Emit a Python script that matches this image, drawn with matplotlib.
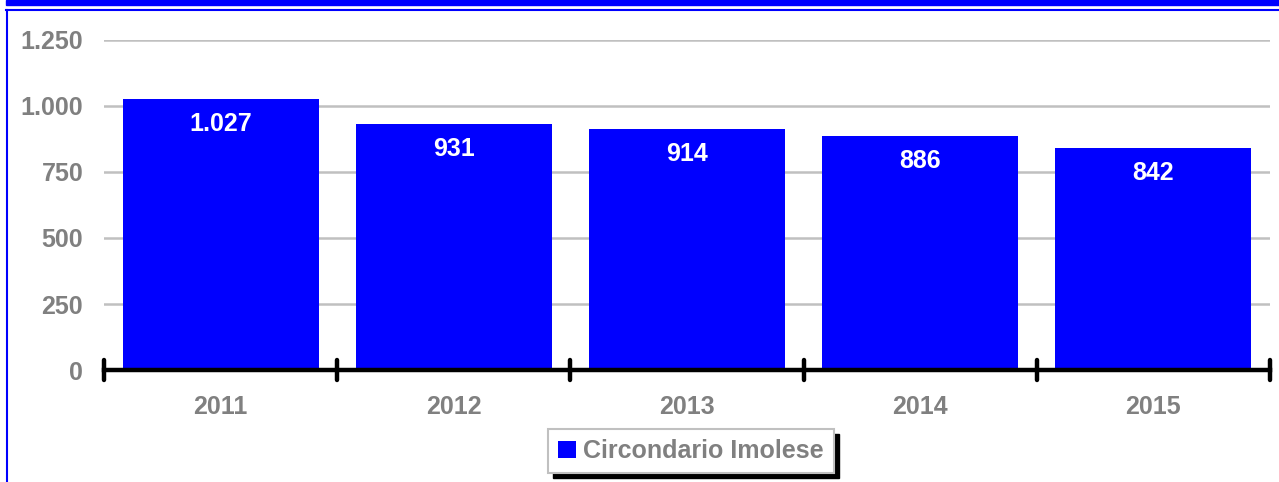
import matplotlib.pyplot as plt
from matplotlib.lines import Line2D
from matplotlib.patches import Rectangle

# Values per year for the district
years = ["2011", "2012", "2013", "2014", "2015"]
values = [1027, 931, 914, 886, 842]
series_name = "Circondario Imolese"
y_ticks = [0, 250, 500, 750, 1000, 1250]

BLUE = "#0000FF"
GREY = "#808080"

plt.rcParams["font.family"] = ["Liberation Sans", "DejaVu Sans"]
plt.rcParams["font.weight"] = "bold"


def fmt_it(v):
    # Italian thousands separator
    return f"{v:,}".replace(",", ".")


W, H = 1279, 482
fig = plt.figure(figsize=(W / 100, H / 100), dpi=100)
ax = fig.add_axes([104 / W, 112 / H, 1166 / W, 330 / H])

x = list(range(len(years)))
bars = ax.bar(x, values, width=0.84, color=BLUE, label=series_name, zorder=3)

# value labels inside the bars
for b, v in zip(bars, values):
    ax.annotate(fmt_it(v), (b.get_x() + b.get_width() / 2, v),
                xytext=(0, -18), textcoords="offset points",
                ha="center", va="center", color="white",
                fontsize=18, fontweight="bold", zorder=4)

ax.set_xlim(-0.5, len(years) - 0.5)
ax.set_ylim(0, 1250)
ax.set_yticks(y_ticks)
ax.set_yticklabels([fmt_it(t) for t in y_ticks])
ax.set_xticks(x)
ax.set_xticklabels(years)

ax.tick_params(axis="both", length=0, labelsize=18, labelcolor=GREY)
ax.tick_params(axis="y", pad=15)
ax.tick_params(axis="x", pad=18)

ax.yaxis.grid(True, color="#c0c0c0", linewidth=1.8, zorder=0)
ax.set_axisbelow(True)

for side in ("top", "right", "left"):
    ax.spines[side].set_visible(False)
ax.spines["bottom"].set_color("black")
ax.spines["bottom"].set_linewidth(3.2)
ax.spines["bottom"].set_zorder(5)

# category boundary ticks
bounds = [i - 0.5 for i in range(len(years) + 1)]
ax.vlines(bounds, -0.03, 0.03, transform=ax.get_xaxis_transform(),
          colors="black", linewidth=3.2, capstyle="round",
          clip_on=False, zorder=6)

leg = fig.legend(loc="center", bbox_to_anchor=(691 / W, 31 / H),
                 fontsize=18, frameon=True, fancybox=False, framealpha=1,
                 handlelength=0.7, handleheight=0.7, handletextpad=0.3,
                 borderpad=0.4, borderaxespad=0, labelcolor=GREY)
leg.get_frame().set_edgecolor("#c0c0c0")
leg.get_frame().set_linewidth(1.5)
leg.get_frame().set_facecolor("white")
leg.set_zorder(10)

# solid drop shadow behind the legend box
fig.canvas.draw()
bb = leg.get_window_extent()
fig.patches.append(Rectangle(((bb.x0 + 5) / W, (bb.y0 - 5) / H),
                             bb.width / W, bb.height / H,
                             transform=fig.transFigure, color="black",
                             zorder=9))

# outer blue frame and header strip
fig.patches.append(Rectangle((6 / W, 1 - 5 / H), 1, 5 / H,
                             transform=fig.transFigure, color=BLUE))
fig.lines.append(Line2D([6 / W, 1], [1 - 10 / H, 1 - 10 / H],
                        transform=fig.transFigure, color=BLUE, linewidth=1.5))
fig.lines.append(Line2D([6.5 / W, 6.5 / W], [0, 1 - 10 / H],
                        transform=fig.transFigure, color=BLUE, linewidth=1.5))

fig.savefig("out.png", dpi=100)
